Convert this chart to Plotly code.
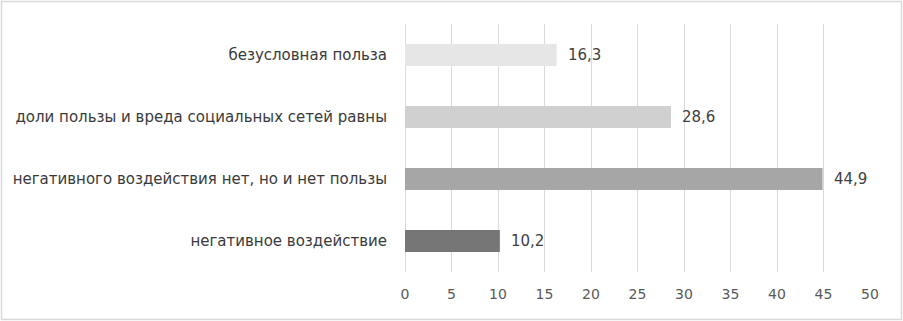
import plotly.graph_objects as go

categories = ["негативное воздействие",
              "негативного воздействия нет, но и нет пользы",
              "доли пользы и вреда социальных сетей равны",
              "безусловная польза"]
values = [10.2, 44.9, 28.6, 16.3]
bar_colors = ["#767676", "#a6a6a6", "#d0d0d0", "#e6e6e6"]
tick_vals = list(range(0, 55, 5))

W, H = 903, 321
L, R, T, B = 405, 33, 24, 49

fig = go.Figure()
fig.add_trace(go.Bar(
    y=categories, x=values, orientation="h",
    marker=dict(color=bar_colors, line=dict(width=0)),
    width=0.355, hoverinfo="skip",
))
for c, v in zip(categories, values):
    fig.add_annotation(x=v, y=c, text=f"{v:.1f}".replace(".", ","),
                       showarrow=False, xanchor="left", xshift=9,
                       font=dict(family="DejaVu Sans", size=15, color="#404040"))

pw, ph = W - L - R, H - T - B
fig.add_shape(type="rect", xref="paper", yref="paper",
              x0=-(L - 1.5) / pw, x1=1 + (R - 1.5) / pw,
              y0=-(B - 1.5) / ph, y1=1 + (T - 1.5) / ph,
              line=dict(color="#d9d9d9", width=1.5))

fig.update_layout(
    width=W, height=H, margin=dict(l=L, r=R, t=T, b=B),
    paper_bgcolor="white", plot_bgcolor="white",
    showlegend=False, separators=", ",
    font=dict(family="DejaVu Sans", size=13, color="#404040"),
    xaxis=dict(range=[0, 50], tickvals=tick_vals, showgrid=True,
               gridcolor="#d9d9d9", gridwidth=1, zeroline=True,
               zerolinecolor="#d9d9d9", zerolinewidth=1,
               tickfont=dict(family="DejaVu Sans", size=14, color="#595959"),
               ticks="", ticklen=0, ticklabelstandoff=12,
               showline=False, fixedrange=True),
    yaxis=dict(categoryorder="array", categoryarray=categories,
               ticks="", ticklabelstandoff=17, showline=False, showgrid=False,
               tickfont=dict(family="DejaVu Sans", size=15, color="#3a3a3a"),
               range=[-0.5, 3.5], fixedrange=True),
)
fig.write_html("out.html", config={"displayModeBar": False},
               post_script="document.body.style.margin='0';")
